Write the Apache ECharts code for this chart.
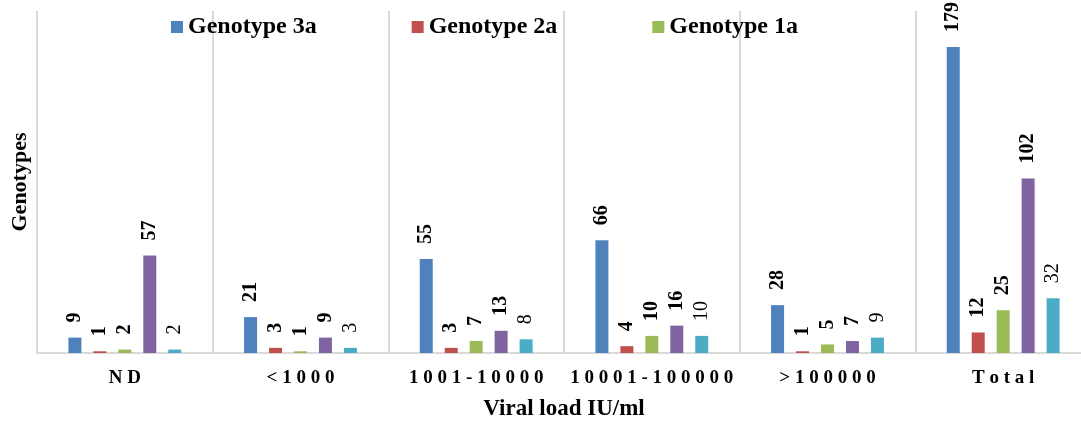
<!DOCTYPE html>
<html>
<head>
<meta charset="utf-8">
<script src="https://cdn.jsdelivr.net/npm/echarts@6/dist/echarts.min.js"></script>
<style>
  html, body { margin: 0; padding: 0; background: #fff; }
  #chart { width: 1081px; height: 423px; }
</style>
</head>
<body>
<div id="chart"></div>
<script>
const categories = ["ND", "<1000", "1001-10000", "10001-100000", ">100000", "Total"];
const seriesNames = ["Genotype 3a", "Genotype 2a", "Genotype 1a", "Series 4", "Series 5"];
const legendNames = ["Genotype 3a", "Genotype 2a", "Genotype 1a"];
const genotype3a = [9, 21, 55, 66, 28, 179];
const genotype2a = [1, 3, 3, 4, 1, 12];
const genotype1a = [2, 1, 7, 10, 5, 25];
const series4 = [57, 9, 13, 16, 7, 102];
const series5 = [2, 3, 8, 10, 9, 32];

const COLORS = ["#4F81BD", "#C0504D", "#9BBB59", "#8064A2", "#4BACC6"];
const FONT = "'Liberation Serif', 'Times New Roman', serif";
const GRID_LINE = "#d9d9d9";

const values = [genotype3a, genotype2a, genotype1a, series4, series5];

// 竖排数据标签，最后一组不加粗
const series = values.map((data, i) => ({
  name: seriesNames[i],
  type: "bar",
  data: data,
  barWidth: 13,
  barGap: "92%",
  itemStyle: { color: COLORS[i] },
  label: {
    show: true,
    position: "top",
    rotate: 90,
    align: "left",
    verticalAlign: "middle",
    distance: 15,
    color: "#000",
    fontFamily: FONT,
    fontSize: 20,
    fontWeight: i === 4 ? "normal" : "bold",
  },
}));

const chart = echarts.init(document.getElementById("chart"));
chart.setOption({
  animation: false,
  backgroundColor: "#fff",
  color: COLORS,
  legend: {
    data: legendNames,
    left: 166,
    top: 10,
    itemWidth: 12,
    itemHeight: 12,
    itemGap: 95,
    icon: "rect",
    textStyle: { fontFamily: FONT, fontSize: 24, fontWeight: "bold", color: "#000" },
  },
  grid: { left: 37, right: -10, top: 11, bottom: 70, outerBoundsMode: "none", containLabel: false },
  xAxis: {
    type: "category",
    data: categories,
    axisLine: { lineStyle: { color: GRID_LINE, width: 2 } },
    axisTick: { show: false },
    splitLine: { show: true, interval: 0, lineStyle: { color: GRID_LINE, width: 2 } },
    axisLabel: {
      interval: 0,
      margin: 16,
      color: "#000",
      fontFamily: FONT,
      fontSize: 19,
      fontWeight: "bold",
      formatter: (v) => v.split("").join(" "),
    },
    name: "Viral load IU/ml",
    nameLocation: "middle",
    nameGap: 45,
    nameTextStyle: { fontFamily: FONT, fontSize: 23, fontWeight: "bold", color: "#000" },
  },
  yAxis: {
    type: "value",
    min: 0,
    max: 200,
    axisLine: { show: false },
    axisTick: { show: false },
    axisLabel: { show: false },
    splitLine: { show: false },
    name: "Genotypes",
    nameLocation: "middle",
    nameGap: 6,
    nameTextStyle: { fontFamily: FONT, fontSize: 22, fontWeight: "bold", color: "#000" },
  },
  series: series,
});
</script>
</body>
</html>
